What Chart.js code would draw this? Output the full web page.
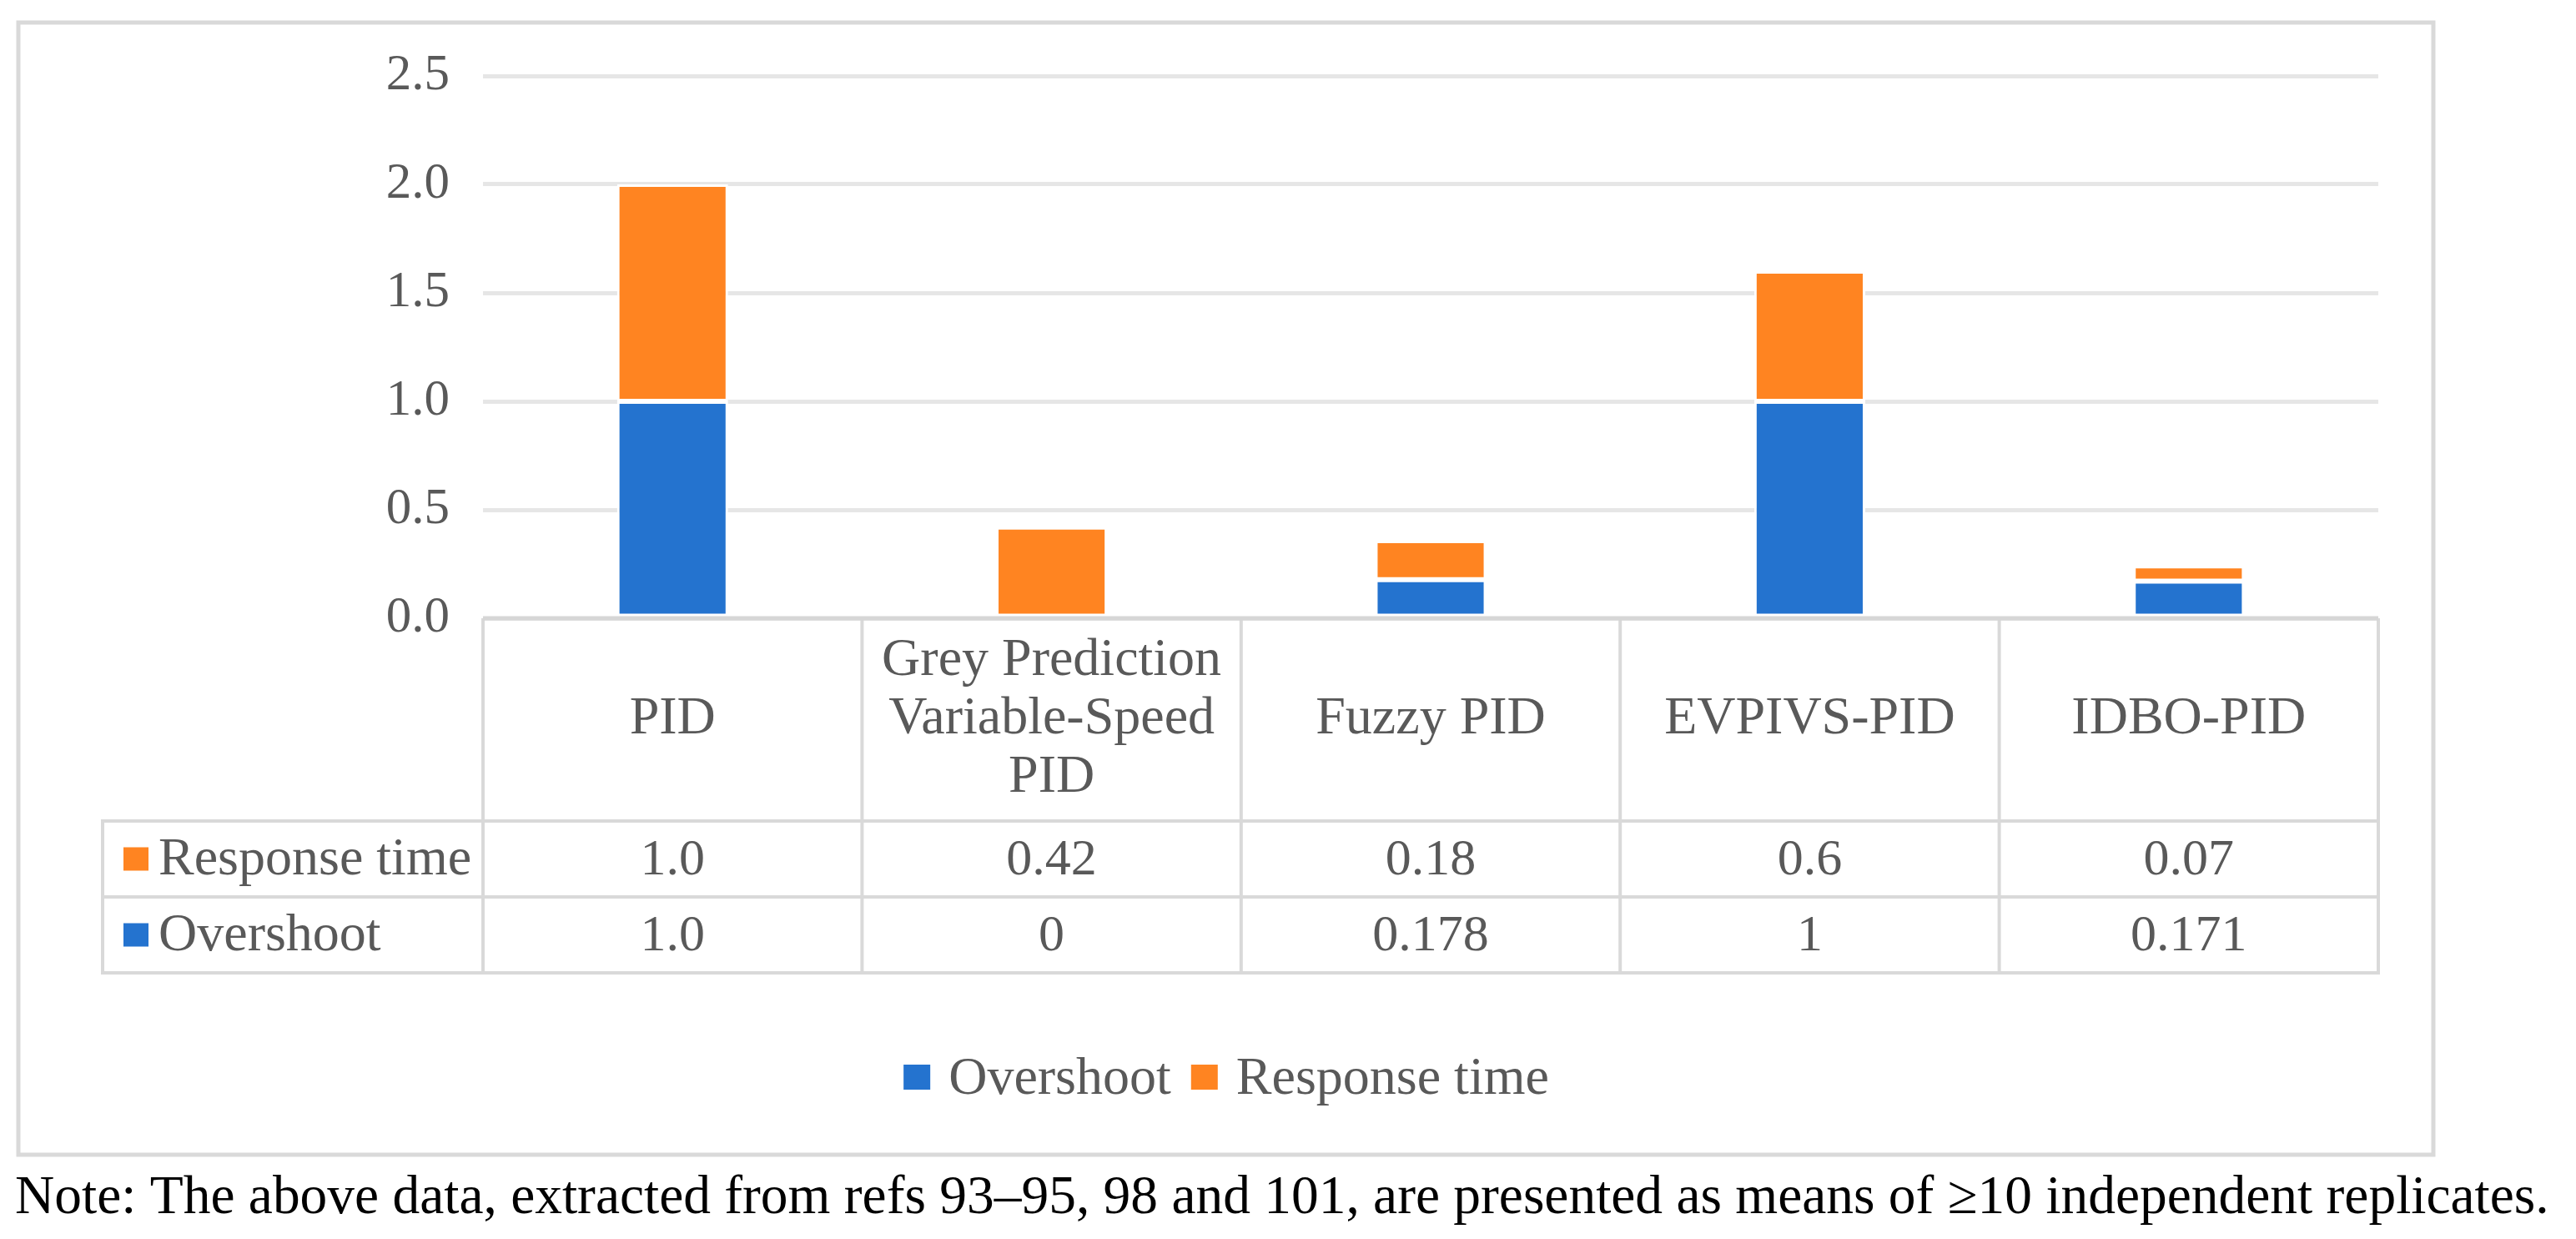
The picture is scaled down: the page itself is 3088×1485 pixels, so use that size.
<!DOCTYPE html>
<html><head><meta charset="utf-8">
<script src="https://cdn.jsdelivr.net/npm/chart.js@4.4.1/dist/chart.umd.min.js"></script>
<style>html,body{margin:0;padding:0;background:#fff;}#wrap{position:relative;width:3088px;height:1485px;}canvas{display:block;}</style>
</head><body><div id="wrap"><canvas id="c" width="3088" height="1485"></canvas></div>
<script>
const categories = ['PID', ['Grey Prediction', 'Variable-Speed', 'PID'], 'Fuzzy PID', 'EVPIVS-PID', 'IDBO-PID'];
const overshoot = [1.0, 0, 0.178, 1, 0.171];
const responseTime = [1.0, 0.42, 0.18, 0.6, 0.07];
const overshootLabels = ['1.0', '0', '0.178', '1', '0.171'];
const responseTimeLabels = ['1.0', '0.42', '0.18', '0.6', '0.07'];
const yTicks = [0, 0.5, 1.0, 1.5, 2.0, 2.5];
const seriesNames = ['Overshoot', 'Response time'];
const noteText = 'Note: The above data, extracted from refs 93\u201395, 98 and 101, are presented as means of \u226510 independent replicates.';

const BLUE = '#2473CF', ORANGE = '#FF8421', GRID = '#E6E6E6', LINE = '#D9D9D9', TXT = '#595959';
const FONT = '"Liberation Serif", "Times New Roman", serif';

const tablePlugin = {
  id: 'tablePlugin',
  beforeDraw(chart) {
    const ctx = chart.ctx;
    ctx.save();
    ctx.fillStyle = '#fff';
    ctx.fillRect(0, 0, chart.width, chart.height);
    ctx.restore();
  },
  afterDraw(chart) {
    const ctx = chart.ctx, ca = chart.chartArea, xs = chart.scales.x;
    const n = categories.length;
    const colW = (ca.right - ca.left) / n;
    const top = ca.bottom;
    const hdrB = top + 243, r1B = hdrB + 91, r2B = r1B + 91;
    const labelL = 123;
    ctx.save();
    // outer border
    ctx.strokeStyle = LINE; ctx.lineWidth = 5;
    ctx.strokeRect(22, 27, 2917 - 22, 1384 - 27);
    // table lines
    ctx.lineWidth = 4; ctx.strokeStyle = LINE;
    ctx.beginPath();
    for (let i = 0; i <= n; i++) {
      const x = ca.left + i * colW;
      ctx.moveTo(x, top); ctx.lineTo(x, r2B);
    }
    ctx.moveTo(labelL, hdrB); ctx.lineTo(labelL, r2B);
    [hdrB, r1B, r2B].forEach(y => { ctx.moveTo(labelL - 2, y); ctx.lineTo(ca.right + 2, y); });
    ctx.stroke();
    // axis line
    ctx.lineWidth = 5; ctx.strokeStyle = '#D6D6D6';
    ctx.beginPath(); ctx.moveTo(ca.left, top); ctx.lineTo(ca.right, top); ctx.stroke();

    // header labels
    ctx.fillStyle = TXT; ctx.textAlign = 'center'; ctx.textBaseline = 'middle';
    ctx.font = '64px ' + FONT;
    const hc = (top + hdrB) / 2;
    categories.forEach((c, i) => {
      const x = xs.getPixelForValue(i);
      const lines = Array.isArray(c) ? c : [c];
      const lh = 70;
      lines.forEach((l, k) => {
        ctx.fillText(l, x, hc + (k - (lines.length - 1) / 2) * lh);
      });
    });
    // rows
    const rows = [
      { name: seriesNames[1], color: ORANGE, labels: responseTimeLabels, y: (hdrB + r1B) / 2 },
      { name: seriesNames[0], color: BLUE, labels: overshootLabels, y: (r1B + r2B) / 2 }
    ];
    rows.forEach(r => {
      ctx.fillStyle = r.color;
      ctx.fillRect(148, r.y - 14, 30, 28);
      ctx.fillStyle = TXT; ctx.textAlign = 'left'; ctx.font = '64px ' + FONT;
      ctx.fillText(r.name, 190, r.y + 2);
      ctx.textAlign = 'center'; ctx.font = '62px ' + FONT;
      r.labels.forEach((v, i) => ctx.fillText(v, xs.getPixelForValue(i), r.y + 2));
    });

    // legend
    ctx.font = '64px ' + FONT;
    const sq = 32, g1 = 22, g2 = 24;
    const items = [{ t: seriesNames[0], c: BLUE }, { t: seriesNames[1], c: ORANGE }];
    let total = 0;
    items.forEach((it, k) => { it.w = ctx.measureText(it.t).width; total += sq + g1 + it.w + (k ? 0 : g2); });
    let lx = 1470 - total / 2;
    const ly = 1292;
    items.forEach(it => {
      ctx.fillStyle = it.c; ctx.fillRect(lx, ly - 16, sq, 30);
      lx += sq + g1;
      ctx.fillStyle = TXT; ctx.textAlign = 'left'; ctx.fillText(it.t, lx, ly + 2);
      lx += it.w + g2;
    });

    // note
    ctx.font = '64px ' + FONT;
    const w64 = ctx.measureText(noteText).width;
    const fs = 64 * (3056 - 18) / w64;
    ctx.font = fs.toFixed(2) + 'px ' + FONT;
    ctx.fillStyle = '#000'; ctx.textAlign = 'left';
    ctx.fillText(noteText, 18, 1437);
    ctx.restore();
  }
};

new Chart(document.getElementById('c'), {
  type: 'bar',
  data: {
    labels: categories,
    datasets: [
      { label: seriesNames[0], data: overshoot, backgroundColor: BLUE, borderColor: '#fff', borderWidth: 3, borderSkipped: false, barPercentage: 0.293, categoryPercentage: 1 },
      { label: seriesNames[1], data: responseTime, backgroundColor: ORANGE, borderColor: '#fff', borderWidth: 3, borderSkipped: false, barPercentage: 0.293, categoryPercentage: 1 }
    ]
  },
  options: {
    responsive: false,
    devicePixelRatio: 1,
    animation: false,
    layout: { padding: { left: 0, top: 91, right: 237, bottom: 744 } },
    plugins: { legend: { display: false }, tooltip: { enabled: false } },
    scales: {
      x: { stacked: true, display: false },
      y: {
        stacked: true, min: 0, max: 2.5,
        afterBuildTicks: s => { s.ticks = yTicks.map(v => ({ value: v })); },
        afterFit: s => { s.width = 579; },
        border: { display: false },
        grid: { color: GRID, lineWidth: 5, drawTicks: false },
        ticks: { padding: 40, color: TXT, font: { family: FONT, size: 61 }, callback: v => Number(v).toFixed(1) }
      }
    }
  },
  plugins: [tablePlugin]
});
</script></body></html>
